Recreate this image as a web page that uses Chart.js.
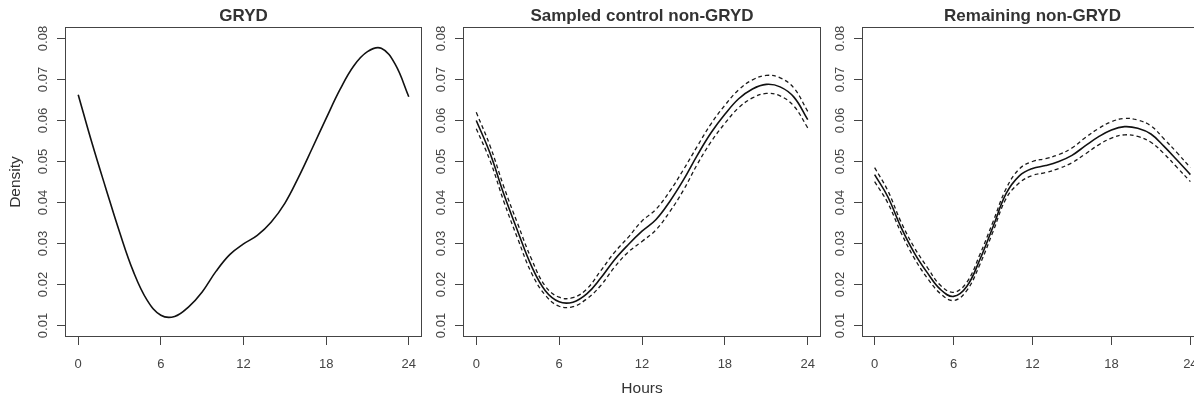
<!DOCTYPE html>
<html>
<head>
<meta charset="utf-8">
<script src="https://cdn.jsdelivr.net/npm/chart.js@4"></script>
<style>
  body { margin: 0; width: 1194px; height: 401px; overflow: hidden; background: #fff; position: relative; }
  canvas { position: absolute; top: 0; }
</style>
</head>
<body>
<canvas id="gryd" width="424" height="401" style="left:0px"></canvas>
<canvas id="control" width="425" height="401" style="left:398px"></canvas>
<canvas id="remain" width="408" height="401" style="left:797px"></canvas>
<script>
const HOURS = [0, 1, 2, 3, 4, 5, 6, 7, 8, 9, 10, 11, 12, 13, 14, 15, 16, 17, 18, 19, 20, 21, 22, 23, 24];
const X_TICKS = [0, 6, 12, 18, 24];
const Y_TICKS = [0.01, 0.02, 0.03, 0.04, 0.05, 0.06, 0.07, 0.08];

// GRYD density (single curve)
const GRYD = [0.0663, 0.0545, 0.0435, 0.0328, 0.0232, 0.0162, 0.0125, 0.0122, 0.0145, 0.0182, 0.0232, 0.0273, 0.0299,
  0.032, 0.0352, 0.0398, 0.0462, 0.0533, 0.0605, 0.0675, 0.0733, 0.0768, 0.0776, 0.0738, 0.0658];

// Sampled control non-GRYD: estimate and band
const CONTROL_FIT = [0.06, 0.052, 0.042, 0.033, 0.0245, 0.0185, 0.0158, 0.0157, 0.0177, 0.0215, 0.026, 0.0297, 0.033,
  0.0358, 0.0402, 0.0455, 0.0515, 0.057, 0.0615, 0.0653, 0.0677, 0.0688, 0.0682, 0.0657, 0.0602];
const CONTROL_UPPER = [0.062, 0.0538, 0.0438, 0.0348, 0.0262, 0.0196, 0.0169, 0.0168, 0.0189, 0.0233, 0.0278, 0.0315, 0.0355,
  0.0383, 0.0427, 0.048, 0.0537, 0.0592, 0.0637, 0.0675, 0.0699, 0.071, 0.0704, 0.0679, 0.0622];
const CONTROL_LOWER = [0.058, 0.0502, 0.0402, 0.0312, 0.0228, 0.0174, 0.0147, 0.0146, 0.0165, 0.0197, 0.0242, 0.0279, 0.0305,
  0.0333, 0.0377, 0.043, 0.0493, 0.0548, 0.0593, 0.0631, 0.0655, 0.0666, 0.066, 0.0635, 0.0582];

// Remaining non-GRYD: estimate and band
const REMAIN_FIT = [0.0468, 0.0414, 0.034, 0.0278, 0.0229, 0.0188, 0.0171, 0.0195, 0.0261, 0.0341, 0.0422, 0.0465, 0.0483,
  0.049, 0.05, 0.0515, 0.0538, 0.056, 0.0577, 0.0585, 0.0581, 0.0567, 0.0537, 0.0503, 0.0468];
const REMAIN_UPPER = [0.0485, 0.0429, 0.0353, 0.0291, 0.0242, 0.0198, 0.0181, 0.0205, 0.0273, 0.0353, 0.0434, 0.0482, 0.05,
  0.0507, 0.0517, 0.0533, 0.0558, 0.058, 0.0597, 0.0605, 0.0601, 0.0587, 0.0555, 0.0521, 0.0485];
const REMAIN_LOWER = [0.0451, 0.0399, 0.0327, 0.0265, 0.0216, 0.0178, 0.0161, 0.0185, 0.0249, 0.0329, 0.041, 0.0448, 0.0466,
  0.0473, 0.0483, 0.0497, 0.0518, 0.054, 0.0557, 0.0565, 0.0561, 0.0547, 0.0519, 0.0485, 0.0451];

const FONT = 'Liberation Sans, Arial, sans-serif';
const AXIS_COLOR = '#444';

const toPoints = (values) => HOURS.map((h, i) => ({ x: h, y: values[i] }));

const solid = (values) => ({
  data: toPoints(values),
  borderColor: '#111',
  borderWidth: 1.6,
  pointRadius: 0,
  tension: 0.4,
  fill: false
});

const dashed = (values) => ({
  data: toPoints(values),
  borderColor: '#1a1a1a',
  borderWidth: 1.3,
  borderDash: [4, 3],
  pointRadius: 0,
  tension: 0.4,
  fill: false
});

// R-style closed box around the plot region
const boxPlugin = {
  id: 'box',
  afterDraw(chart) {
    const { ctx, chartArea } = chart;
    ctx.save();
    ctx.strokeStyle = AXIS_COLOR;
    ctx.lineWidth = 1;
    ctx.strokeRect(Math.round(chartArea.left) + 0.5, Math.round(chartArea.top) + 0.5,
      Math.round(chartArea.right - chartArea.left) - 1, Math.round(chartArea.bottom - chartArea.top) - 1);
    ctx.restore();
  }
};

function makePanel(id, title, datasets, showYTitle, showXTitle) {
  const ctx = document.getElementById(id).getContext('2d');
  return new Chart(ctx, {
    type: 'line',
    data: { datasets: datasets },
    plugins: [boxPlugin],
    options: {
      responsive: false,
      animation: false,
      layout: { padding: { left: 0, right: 2, top: 0, bottom: 0 } },
      plugins: {
        legend: { display: false },
        tooltip: { enabled: false },
        title: {
          display: true,
          text: title,
          fullSize: false,
          color: '#333',
          font: { family: FONT, size: 17, weight: 'bold' },
          padding: { top: 6, bottom: 0.6 }
        }
      },
      scales: {
        x: {
          type: 'linear',
          min: -0.96,
          max: 24.96,
          afterBuildTicks: (scale) => { scale.ticks = X_TICKS.map(v => ({ value: v })); },
          afterFit: (scale) => {
            scale.height = 64;
            scale.paddingLeft = 0;
            scale.paddingRight = 0;
          },
          grid: { drawOnChartArea: false, drawTicks: true, tickLength: 8, color: AXIS_COLOR },
          border: { display: false },
          ticks: {
            color: AXIS_COLOR,
            font: { family: FONT, size: 13 },
            padding: 12,
            maxRotation: 0,
            autoSkip: false
          },
          title: {
            display: showXTitle,
            text: 'Hours',
            color: '#333',
            font: { family: FONT, size: 15.5 },
            padding: { top: 0, bottom: 3 }
          }
        },
        y: {
          type: 'linear',
          min: 0.0072,
          max: 0.0828,
          afterBuildTicks: (scale) => { scale.ticks = Y_TICKS.map(v => ({ value: v })); },
          afterFit: (scale) => {
            scale.width = 65;
            scale.paddingTop = 0;
            scale.paddingBottom = 0;
          },
          grid: { drawOnChartArea: false, drawTicks: true, tickLength: 8, color: AXIS_COLOR },
          border: { display: false },
          ticks: {
            color: AXIS_COLOR,
            font: { family: FONT, size: 13 },
            minRotation: 90,
            maxRotation: 90,
            crossAlign: 'center',
            padding: 1,
            callback: (v) => v.toFixed(2)
          },
          title: {
            display: showYTitle,
            text: 'Density',
            color: '#333',
            font: { family: FONT, size: 15.5 },
            padding: { top: 6, bottom: 0 }
          }
        }
      }
    }
  });
}

makePanel('gryd', 'GRYD', [solid(GRYD)], true, false);
makePanel('control', 'Sampled control non-GRYD',
  [dashed(CONTROL_UPPER), solid(CONTROL_FIT), dashed(CONTROL_LOWER)], false, true);
makePanel('remain', 'Remaining non-GRYD',
  [dashed(REMAIN_UPPER), solid(REMAIN_FIT), dashed(REMAIN_LOWER)], false, false);
</script>
</body>
</html>
